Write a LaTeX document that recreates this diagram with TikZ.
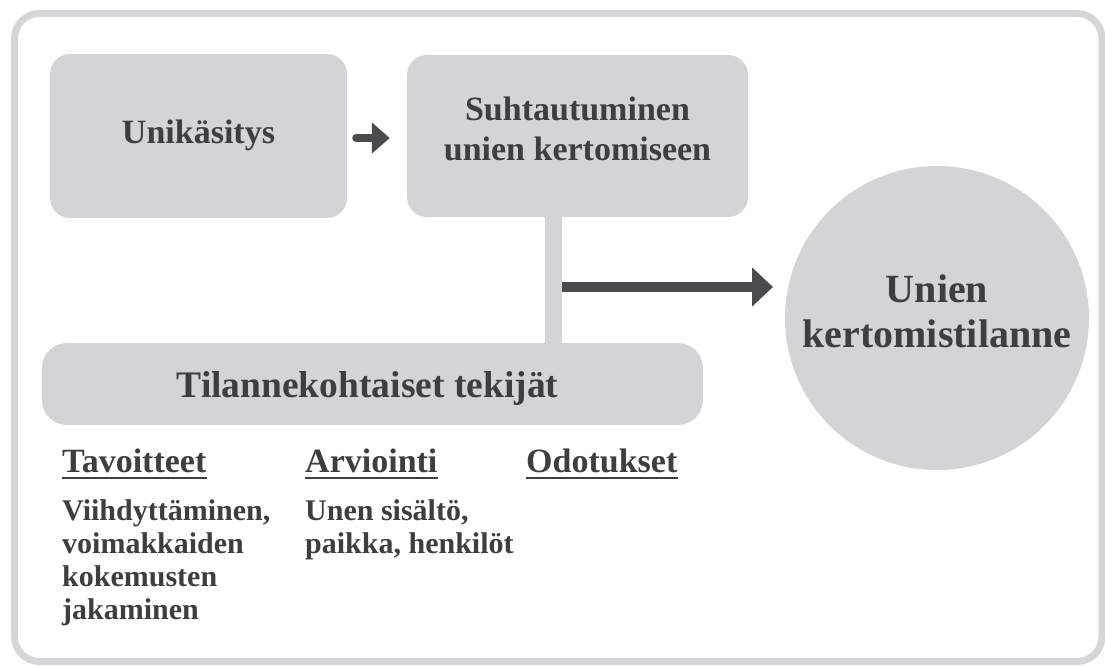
\documentclass[tikz,border=0pt]{standalone}
\usepackage{fontspec}
\setmainfont{Liberation Serif}
\usetikzlibrary{arrows.meta,calc}
\definecolor{boxgray}{HTML}{D3D4D6}
\definecolor{framegray}{HTML}{D5D6D8}
\definecolor{arrowgray}{HTML}{4B4B4D}
\definecolor{txtgray}{HTML}{3E3E40}
\begin{document}
\begin{tikzpicture}[x=1pt,y=-1pt,
  boxnode/.style={fill=boxgray, draw=none, rounded corners=20pt, inner sep=0pt},
  lbl/.style={text=txtgray, font=\bfseries\fontsize{34}{40}\selectfont, align=center, inner sep=0pt},
  biglbl/.style={text=txtgray, font=\bfseries\fontsize{40}{45}\selectfont, align=center, inner sep=0pt},
  head/.style={text=txtgray, font=\bfseries\fontsize{34}{40}\selectfont, anchor=base west, inner sep=0pt},
  body/.style={text=txtgray, font=\bfseries\fontsize{30}{33}\selectfont, align=left, anchor=north west, inner sep=0pt},
  uline/.style={txtgray, line width=2pt},
  bar/.style={boxgray, line width=17pt},
  darrow/.style={arrowgray, line cap=round}]
\useasboundingbox (0,0) rectangle (1105,666);
\draw[framegray, line width=7pt, rounded corners=25pt] (14.5,13.5) rectangle (1102,661.5);

\node[boxnode, minimum width=297pt, minimum height=164pt] (uni) at (198.5,136) {};
\node[boxnode, minimum width=341pt, minimum height=162pt] (suht) at (577.5,136) {};
\node[boxnode, rounded corners=25pt, minimum width=661pt, minimum height=82pt] (tila) at (372.5,384) {};
\node[circle, fill=boxgray, draw=none, minimum size=304pt, inner sep=0pt] (circ) at (937,318) {};

\node[lbl, anchor=base] (unit) at (198.5,143) {Unikäsitys};
\node[lbl] (suhtt) at (577.5,129) {Suhtautuminen\\unien kertomiseen};
\node[lbl, font=\bfseries\fontsize{37.5}{40}\selectfont, anchor=base] (tilat) at (367.5,397) {Tilannekohtaiset tekijät};
\node[biglbl] (circt) at (937,311) {Unien\\kertomistilanne};

\coordinate (jx) at (553.5,287);
\coordinate (tip) at (773,287);
\draw[bar] (jx |- suht.south) -- (jx |- tila.north);
\draw[darrow, line width=8pt, -{Triangle[length=18pt,width=30pt]}] ($(uni.east)+(9,2)$) -- ($(suht.west)+(-17,2)$);
\draw[arrowgray, line width=10pt, -{Triangle[length=21pt,width=38pt]}] ([xshift=8.5pt]jx) -- (tip);

\node[head] (tav) at (62,472) {Tavoitteet};
\node[head] (arv) at (305,472) {Arviointi};
\node[head] (odo) at (526,472) {Odotukset};
\draw[uline] ([yshift=-6pt]tav.base west) -- ([yshift=-6pt]tav.base east);
\draw[uline] ([yshift=-6pt]arv.base west) -- ([yshift=-6pt]arv.base east);
\draw[uline] ([yshift=-6pt]odo.base west) -- ([yshift=-6pt]odo.base east);

\node[body] (tavb) at (62,499) {Viihdyttäminen,\\voimakkaiden\\kokemusten\\jakaminen};
\node[body] (arvb) at (305,499) {Unen sisältö,\\paikka, henkilöt};
\end{tikzpicture}
\end{document}
